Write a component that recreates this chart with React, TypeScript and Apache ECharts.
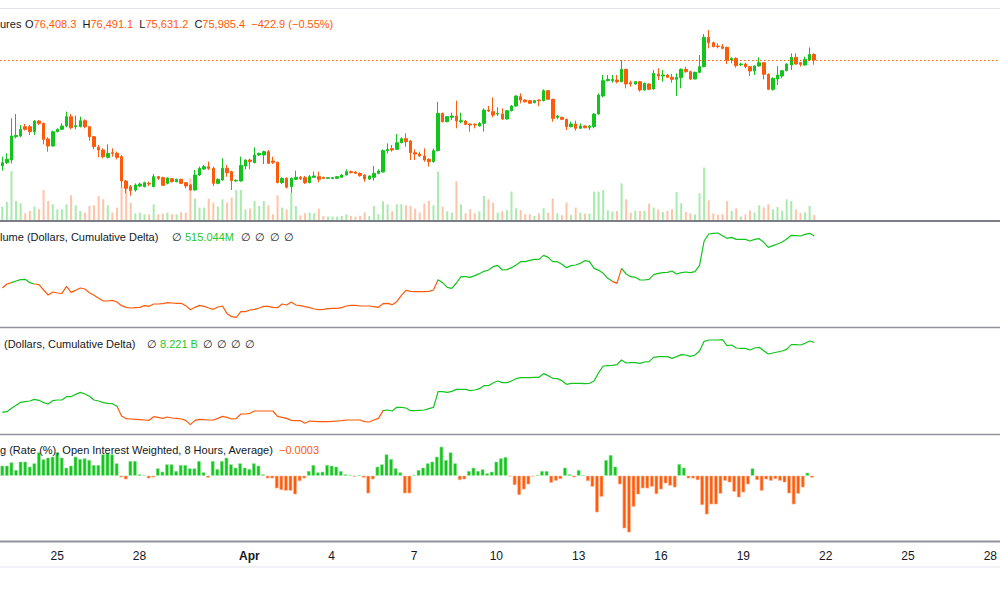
import React, { useEffect, useRef } from "react";
import * as echarts from "echarts";

// ---- time slots (4-hour bars) ----
const START_UTC = Date.UTC(2025, 2, 23, 0, 0);
const SLOT_HOURS = 4;
const SLOT_COUNT = 218;

const TICK_DATES = ["03-25", "03-28", "04-01", "04-04", "04-07", "04-10", "04-13", "04-16", "04-19", "04-22", "04-25", "04-28"];
const TICK_LABELS = ["25", "28", "Apr", "4", "7", "10", "13", "16", "19", "22", "25", "28"];

// ---- price candles ----
const OPEN = [
  68060, 68285, 68485, 70235, 70285, 70985, 70985, 70610, 71410, 71235,
  70060, 69535, 70610, 70785, 71035, 71735, 70985, 70985, 71435, 70985,
  70235, 69435, 69235, 68685, 69035, 68985, 68735, 66910, 66485, 66235,
  66535, 66485, 66735, 66485, 67235, 67160, 66735, 67085, 66860, 67035,
  66785, 66610, 66235, 67360, 67810, 67985, 67860, 66735, 66985, 67860,
  67610, 66910, 66910, 68035, 68485, 68285, 68860, 68860, 69110, 68410,
  68310, 66785, 67110, 66485, 67035, 67185, 67160, 66785, 67185, 67235,
  67185, 67110, 67085, 67110, 67185, 67360, 67610, 67585, 67485, 67360,
  67060, 67185, 67485, 67585, 69185, 69335, 69285, 69785, 70085, 69910,
  69035, 68935, 68785, 68535, 68360, 69185, 71985, 71360, 71685, 71785,
  71360, 71410, 71185, 71160, 71035, 71235, 72235, 72110, 71935, 71935,
  71560, 72185, 72535, 73235, 72985, 72935, 72785, 72985, 72935, 73685,
  73035, 71685, 71685, 71535, 70985, 71185, 70860, 71035, 70935, 70985,
  71935, 73285, 74435, 74435, 74485, 74360, 75285, 74285, 74185, 74360,
  73735, 74185, 73810, 74935, 74785, 74860, 74685, 74535, 74660, 75285,
  75110, 74560, 75060, 75485, 77685, 77285, 77035, 76985, 76935, 75985,
  76110, 75635, 75685, 75485, 75160, 75535, 75785, 74910, 73785, 74560,
  74785, 75185, 75610, 76185, 75785, 75610, 75985, 76408.3,
];
const CLOSE = [
  68285, 68535, 70285, 70335, 70785, 70785, 70610, 71410, 71235, 70035,
  69535, 70610, 70785, 71035, 71735, 70910, 71060, 71435, 70985, 70235,
  69485, 69235, 68735, 68985, 68985, 68685, 66910, 66360, 66185, 66610,
  66685, 66785, 66685, 67235, 67110, 66585, 67135, 66860, 67035, 66735,
  66535, 66235, 67360, 67860, 67985, 67860, 66735, 67035, 67860, 67535,
  66935, 66960, 68085, 68485, 68360, 68860, 68985, 69110, 68235, 68310,
  66785, 67110, 66435, 67110, 67185, 67085, 66785, 67235, 67285, 67035,
  67110, 67160, 67160, 67235, 67360, 67610, 67535, 67485, 67310, 67060,
  67285, 67485, 67660, 69185, 69285, 69235, 69785, 70085, 69860, 69035,
  68935, 68785, 68485, 68360, 69185, 71985, 71360, 71735, 71785, 71410,
  71435, 71160, 71110, 71110, 71235, 72235, 72160, 71860, 71985, 71560,
  72185, 72535, 73285, 72985, 72860, 72735, 72935, 72935, 73685, 73035,
  71610, 71785, 71535, 70985, 71185, 70860, 71035, 70910, 71035, 71935,
  73360, 74435, 74535, 74535, 74360, 75285, 74185, 74185, 74360, 73735,
  74235, 73785, 74985, 74785, 74860, 74685, 74535, 74685, 75285, 75110,
  74560, 75060, 75485, 77685, 77285, 76985, 76985, 76860, 75985, 76110,
  75560, 75685, 75485, 75160, 75535, 75785, 74910, 73785, 74610, 74860,
  75185, 75685, 76185, 75685, 75660, 76035, 76408.3, 75985.4,
];
const LOW = [
  67685, 68185, 68235, 70110, 70185, 70685, 70360, 70360, 71110, 69660,
  69110, 69485, 70560, 70735, 70935, 70785, 70785, 70935, 70860, 69935,
  69285, 68685, 68610, 68610, 68735, 68535, 66435, 65985, 65810, 66110,
  66435, 66435, 66535, 66435, 66985, 66535, 66660, 66785, 66810, 66685,
  66360, 66185, 66185, 67285, 67735, 67735, 66535, 66660, 66935, 67235,
  66235, 66860, 66860, 67785, 67785, 68235, 68785, 68185, 68185, 68185,
  66735, 66685, 66360, 66035, 66985, 66985, 66685, 66735, 67135, 66810,
  67060, 67085, 67060, 67085, 67160, 67335, 67485, 67435, 67235, 66860,
  66985, 66935, 67410, 67535, 68985, 69110, 69235, 69735, 69485, 68485,
  68485, 68735, 68360, 67985, 68285, 69135, 71310, 71310, 71485, 70860,
  71235, 71085, 70610, 70860, 70985, 70610, 72085, 71685, 71785, 71485,
  71510, 72135, 72485, 72735, 72785, 72685, 72735, 72535, 72885, 72985,
  71360, 71535, 71485, 70735, 70935, 70685, 70810, 70860, 70735, 70860,
  71885, 73185, 74385, 74285, 74235, 74310, 73860, 73985, 74135, 73610,
  73685, 73735, 73760, 74485, 74360, 74635, 74285, 73285, 73860, 75035,
  74485, 74535, 74985, 75435, 76860, 76935, 76860, 76785, 75685, 75735,
  75410, 75535, 75360, 74785, 74860, 75485, 74535, 73735, 73685, 74110,
  74610, 75135, 75235, 75635, 75485, 75560, 75935, 75631.2,
];
const HIGH = [
  68735, 68985, 71610, 71935, 71110, 71185, 71110, 71485, 71485, 71285,
  70185, 70685, 70860, 71235, 72110, 71935, 71810, 71735, 71535, 71035,
  70285, 69610, 69360, 69660, 69360, 69110, 68860, 66985, 66610, 66735,
  66785, 66860, 66860, 67435, 67285, 67235, 67185, 67135, 67085, 67085,
  66835, 66685, 67735, 67985, 68110, 68360, 67985, 67110, 68610, 68110,
  67685, 67035, 68735, 68535, 68585, 69435, 69035, 69185, 69235, 68735,
  68360, 67185, 67185, 67185, 67685, 67285, 67285, 67360, 67610, 67610,
  67235, 67185, 67185, 67285, 67435, 67785, 67685, 67660, 67535, 67410,
  67335, 68035, 67785, 69285, 69735, 69610, 70435, 70185, 70485, 69985,
  69285, 69110, 69360, 68610, 69360, 72835, 72035, 71785, 72035, 72935,
  72035, 71485, 71235, 71235, 71335, 72360, 72535, 73185, 72435, 72360,
  72235, 72610, 73335, 73485, 73035, 72985, 72985, 73035, 73785, 73735,
  73085, 71860, 71735, 71585, 71360, 71435, 71235, 71085, 71085, 71985,
  73485, 74860, 74860, 74860, 74860, 75985, 75335, 74435, 74410, 74410,
  74285, 74235, 75235, 75360, 75235, 74935, 74935, 74985, 75360, 75485,
  75185, 75110, 76360, 77935, 78235, 77360, 77235, 77185, 76985, 76185,
  76185, 75785, 75785, 75535, 75585, 76185, 75835, 74985, 74685, 75535,
  75235, 75735, 76485, 76485, 75835, 76235, 76935, 76491.1,
];
const VOLUME = [
  13.4, 18.0, 49.0, 19.0, 16.7, 6.7, 9.0, 13.4, 10.7, 30.0,
  19.0, 15.7, 10.7, 10.7, 15.7, 24.7, 14.7, 9.0, 7.4, 14.0,
  14.7, 24.0, 20.7, 14.7, 7.4, 12.4, 33.4, 32.4, 17.4, 6.7,
  7.4, 5.7, 5.7, 15.7, 5.7, 6.4, 7.4, 5.7, 5.7, 8.0,
  7.4, 41.4, 21.4, 12.4, 12.4, 21.4, 17.4, 13.4, 20.7, 17.4,
  22.4, 30.0, 30.0, 10.7, 11.4, 19.0, 14.0, 19.0, 14.7, 5.7,
  24.7, 12.4, 10.7, 27.4, 14.0, 4.7, 6.7, 7.4, 6.7, 11.4,
  4.0, 3.4, 3.4, 3.4, 4.0, 5.7, 4.0, 3.4, 4.0, 7.4,
  4.0, 14.0, 5.7, 18.7, 15.7, 8.7, 15.7, 15.7, 14.7, 14.0,
  11.4, 7.4, 16.4, 19.0, 14.7, 48.4, 13.4, 8.7, 7.4, 38.7,
  15.7, 6.7, 10.7, 6.7, 8.7, 24.0, 20.7, 17.4, 7.4, 8.7,
  10.0, 28.4, 11.7, 10.0, 5.7, 5.7, 4.0, 6.7, 11.7, 7.4,
  21.4, 6.7, 4.7, 17.4, 5.0, 12.4, 7.4, 6.4, 6.4, 28.4,
  28.4, 30.0, 9.7, 8.4, 9.0, 36.7, 20.7, 7.4, 9.0, 9.0,
  9.0, 16.4, 12.4, 10.7, 8.0, 9.0, 10.7, 28.0, 16.7, 8.0,
  6.7, 5.7, 26.7, 52.4, 19.7, 6.7, 5.4, 5.7, 18.7, 9.0,
  11.7, 3.4, 5.7, 9.4, 7.4, 14.7, 12.7, 15.7, 10.7, 13.0,
  9.4, 20.7, 19.0, 10.4, 7.0, 7.7, 14.0, 5.0,
];

// ---- cumulative volume delta (millions of dollars) ----
const CVD_VOLUME = [
  -58.5, -14.3, 0.4, 18.8, 33.5, 37.1, 0.4, -14.3, -21.7, -80.5,
  -135.7, -102.6, -113.6, -117.3, -40.1, -106.3, -84.2, -58.5, -69.5, -109.9,
  -139.4, -172.5, -201.9, -201.9, -194.5, -212.9, -253.3, -271.7, -279.1, -275.4,
  -271.7, -253.3, -260.7, -235.0, -235.0, -231.3, -220.3, -223.9, -227.6, -227.6,
  -253.3, -297.5, -271.7, -249.7, -260.7, -279.1, -293.8, -268.1, -257.0, -341.6,
  -374.7, -382.0, -319.5, -319.5, -301.1, -293.8, -279.1, -260.7, -260.7, -271.7,
  -275.4, -235.0, -246.0, -212.9, -246.0, -253.3, -264.4, -275.4, -290.1, -297.5,
  -293.8, -286.4, -282.8, -282.8, -275.4, -257.0, -249.7, -249.7, -257.0, -257.0,
  -257.0, -264.4, -271.7, -231.3, -227.6, -242.3, -209.2, -139.4, -84.2, -95.2,
  -98.9, -98.9, -98.9, -95.2, -80.5, 33.5, 0.4, -51.1, -62.1, -3.3,
  66.6, 66.6, 59.2, 77.6, 99.6, 125.4, 140.1, 176.9, 191.6, 140.1,
  143.8, 165.8, 195.2, 232.0, 232.0, 246.7, 257.8, 257.8, 301.9, 279.8,
  232.0, 232.0, 202.6, 165.8, 187.9, 195.2, 213.6, 243.0, 235.7, 158.5,
  136.4, 103.3, 48.2, 15.1, -7.0, 158.5, 96.0, 66.6, 59.2, 29.8,
  29.8, 37.1, 88.6, 103.3, 110.7, 114.4, 129.1, 96.0, 110.7, 118.0,
  110.7, 121.7, 191.6, 460.0, 537.2, 544.6, 548.2, 518.8, 489.4, 500.4,
  478.4, 478.4, 478.4, 460.0, 478.4, 485.7, 445.3, 390.1, 408.5, 426.9,
  449.0, 482.0, 522.5, 518.8, 515.1, 533.5, 544.6, 515.044,
];

// ---- cumulative dollar delta (billions) ----
const CVD_DOLLAR = [
  0.078, 0.155, 0.543, 0.892, 1.241, 1.319, 1.396, 1.59, 1.474, 1.202,
  1.047, 1.435, 1.512, 1.512, 1.9, 1.9, 2.172, 2.404, 2.21, 1.939,
  1.512, 1.396, 1.202, 1.125, 1.086, 0.776, -0.349, -0.659, -0.698, -0.737,
  -0.776, -0.814, -0.853, -0.427, -0.504, -0.62, -0.465, -0.582, -0.62, -0.698,
  -0.853, -1.357, -0.853, -0.737, -0.776, -0.814, -0.814, -0.62, -0.388, -0.504,
  -0.698, -0.659, -0.116, -0.116, -0.039, 0.233, 0.233, 0.233, 0.233, 0.233,
  -0.388, -0.504, -0.62, -0.853, -0.892, -0.892, -1.202, -0.931, -0.97, -1.008,
  -1.008, -1.008, -0.97, -0.931, -0.892, -0.814, -0.814, -0.814, -0.814, -1.008,
  -1.047, -0.814, -0.62, 0.271, 0.349, 0.233, 0.659, 0.659, 0.582, 0.271,
  0.271, 0.31, 0.349, 0.504, 0.659, 2.482, 2.482, 2.404, 2.521, 2.753,
  2.753, 2.753, 2.598, 2.676, 2.831, 3.18, 3.18, 3.49, 3.723, 3.529,
  3.529, 3.723, 3.994, 4.111, 4.111, 4.111, 4.149, 4.149, 4.576, 4.343,
  4.033, 3.994, 3.762, 3.335, 3.451, 3.451, 3.451, 3.413, 3.451, 3.723,
  4.692, 5.468, 5.507, 5.546, 5.623, 6.166, 5.817, 5.856, 5.856, 5.778,
  5.933, 5.972, 6.476, 6.554, 6.554, 6.554, 6.36, 6.554, 6.787, 6.748,
  6.593, 6.748, 7.213, 8.338, 8.493, 8.493, 8.493, 8.532, 7.834, 7.911,
  7.562, 7.523, 7.523, 7.329, 7.562, 7.64, 7.252, 6.864, 6.98, 7.097,
  7.213, 7.407, 7.95, 7.95, 7.911, 8.105, 8.376, 8.221,
];

// ---- funding rate (%), OI weighted ----
const FUNDING = [
  0.0015, 0.0015, 0.002, 0.00085, 0.0021, 0.0021, 0.00135, 0.00185, 0.0035, 0.00245,
  0.0027, 0.00285, 0.0035, 0.0027, 0.0012, 0.0015, 0.00285, 0.0025, 0.0026, 0.00235,
  0.0016, 0.0016, 0.0032, 0.00335, 0.0032, 0.00185, -0.00025, -0.00055, 0.0022, 0.0022,
  0.0002, 0.0001, -0.0004, -0.00025, 0.0011, 0.0006, 0.0017, 0.0017, 0.0007, 0.0016,
  0.0016, 0.0011, 0.0011, 0.0022, 0.0005, -0.0003, 0.0022, 0.001, 0.0022, 0.0027,
  0.0017, 0.0012, 0.00185, 0.0012, 0.001, 0.00185, 0.0015, 0.0002, -0.0004, -0.0004,
  -0.0019, -0.00215, -0.00225, -0.00225, -0.0028, -0.0008, -0.0004, 0.0007, 0.0016, 0.0005,
  0.0006, 0.0016, 0.0015, 0.00135, 0.0007, 0.0002, 0.0001, -0.00015, 0.0001, -0.0003,
  -0.00265, -0.00055, 0.00135, 0.0017, 0.0032, 0.0025, 0.0011, 0.0005, -0.00265, -0.00265,
  0.0001, 0.00085, 0.0012, 0.00185, 0.0021, 0.00285, 0.00435, 0.00235, 0.0035, 0.00185,
  -0.00065, -0.00055, 0.0007, 0.0012, 0.0007, 0.00095, 0.00035, 0.0006, 0.0021, 0.0026,
  0.0028, -0.0001, -0.0014, -0.0029, -0.00205, -0.0013, -0.0001, 0.0001, 0.0007, 0.0007,
  -0.00105, -0.00075, -0.0005, 0.0012, 0.0002, -0.00025, 0.00085, 0.0001, -0.0008, -0.00165,
  -0.0055, -0.00315, 0.00235, 0.0031, 0.00135, -0.0013, -0.0079, -0.0085, -0.00465, -0.0028,
  -0.0019, -0.0019, -0.00165, -0.00275, -0.00205, -0.00115, -0.0015, -0.00175, 0.00175, 0.0012,
  -0.0004, -0.0004, -0.00065, -0.0044, -0.0058, -0.0043, -0.0043, -0.0027, -0.00075, -0.001,
  -0.0024, -0.00325, -0.0025, -0.0013, 0.0011, -0.00065, -0.00225, -0.00055, -0.00075, -0.0005,
  -0.00075, -0.001, -0.00265, -0.0043, -0.0027, -0.00175, 0.00045, -0.0003,
];

// ---- styling ----
const UP = "#12c41c";
const DOWN = "#ff5a0a";
const UP_VOL = "rgba(18,196,28,0.36)";
const DOWN_VOL = "rgba(255,90,10,0.36)";
const TEXT = "#131722";
const TEXT_GREEN = "#1fc92a";
const FONT = '"Liberation Sans", Arial, sans-serif';
const AXIS_FONT = '"Liberation Sans Narrow", "Liberation Sans", sans-serif';

const pad = (n: number) => (n < 10 ? "0" + n : "" + n);
const CATEGORIES: string[] = [];
for (let i = 0; i < SLOT_COUNT; i++) {
  const d = new Date(START_UTC + i * SLOT_HOURS * 3600 * 1000);
  CATEGORIES.push(`${pad(d.getUTCMonth() + 1)}-${pad(d.getUTCDate())} ${pad(d.getUTCHours())}:00`);
}

const fmtNum = (v: number, digits: number) =>
  v.toLocaleString("en-US", { minimumFractionDigits: digits, maximumFractionDigits: digits });
const signed = (s: string) => s.replace("-", "\u2212");

function txt(x: number, y: number, text: string, fill: string, weight: string = "normal") {
  return {
    type: "text",
    x,
    y,
    silent: true,
    z: 50,
    style: { text, fill, fontSize: 11, fontFamily: FONT, fontWeight: weight, verticalAlign: "middle", align: "left" },
  };
}
function hline(y: number, color: string, w: number) {
  return {
    type: "line",
    silent: true,
    z: 40,
    shape: { x1: 0, y1: y, x2: 1000, y2: y },
    style: { stroke: color, lineWidth: w },
  };
}

function buildOption() {
  const last = CLOSE.length - 1;
  const chg = CLOSE[last] - CLOSE[last - 1];
  const pct = (chg / CLOSE[last - 1]) * 100;
  const lastCvd1 = CVD_VOLUME[CVD_VOLUME.length - 1];
  const lastCvd2 = CVD_DOLLAR[CVD_DOLLAR.length - 1];
  const lastFunding = FUNDING[FUNDING.length - 1];

  const grids = [
    { left: 0, right: 0, top: 10, height: 210 },
    { left: 0, right: 0, top: 221, height: 106 },
    { left: 0, right: 0, top: 328, height: 106 },
    { left: 0, right: 0, top: 435, height: 106 },
  ];

  const xAxis = grids.map((_, k) => ({
    type: "category",
    gridIndex: k,
    data: CATEGORIES,
    boundaryGap: true,
    axisLine: { show: false },
    axisTick: { show: false },
    splitLine: { show: false },
    axisLabel:
      k === 3
        ? {
            show: true,
            margin: 9,
            interval: (_idx: number, value: string) =>
              value.endsWith("00:00") && TICK_DATES.indexOf(value.slice(0, 5)) >= 0,
            formatter: (value: string) => {
              const lab = TICK_LABELS[TICK_DATES.indexOf(value.slice(0, 5))] || "";
              return /^\d+$/.test(lab) ? lab : `{m|${lab}}`;
            },
            color: TEXT,
            fontSize: 12,
            fontFamily: AXIS_FONT,
            rich: { m: { fontWeight: "bold", fontSize: 12, fontFamily: AXIS_FONT, color: TEXT } },
          }
        : { show: false },
  }));

  const hidden = { axisLine: { show: false }, axisTick: { show: false }, axisLabel: { show: false }, splitLine: { show: false } };
  const yAxis = [
    { type: "value", gridIndex: 0, min: 63985, max: 79735, scale: true, ...hidden },
    { type: "value", gridIndex: 0, min: 0, max: 210, ...hidden },
    { type: "value", gridIndex: 1, min: -488.6, max: 680.6, ...hidden },
    { type: "value", gridIndex: 2, min: -2.443, max: 9.889, ...hidden },
    { type: "value", gridIndex: 3, min: -0.009795, max: 0.006105, ...hidden },
  ];

  const candles = OPEN.map((o, i) => [o, CLOSE[i], LOW[i], HIGH[i]]);
  const vols = VOLUME.map((v, i) => ({
    value: v,
    itemStyle: { color: CLOSE[i] >= OPEN[i] ? UP_VOL : DOWN_VOL },
  }));
  const funding = FUNDING.map((v) => ({
    value: v,
    itemStyle: { color: v >= 0 ? UP : DOWN, borderColor: v >= 0 ? "#8fe396" : "#ffb48e", borderWidth: 0.6 },
  }));

  const header =
    `{k|O}{v|${fmtNum(OPEN[last], 1)}}  {k|H}{v|${fmtNum(HIGH[last], 1)}}  ` +
    `{k|L}{v|${fmtNum(LOW[last], 1)}}  {k|C}{v|${fmtNum(CLOSE[last], 1)}}  ` +
    `{v|${signed(fmtNum(chg, 1))} (${signed(fmtNum(pct, 2))}%)}`;

  const graphic: any[] = [
    hline(8.5, "#e0e3eb", 1),
    hline(221, "#50535e", 1.6),
    hline(327.5, "#8f929b", 1.4),
    hline(434.5, "#8f929b", 1.4),
    hline(541.5, "#8f929b", 1.8),
    hline(567, "#e0e3eb", 1),
    // header
    txt(0, 24, "ures", TEXT),
    {
      type: "text",
      x: 25,
      y: 24,
      silent: true,
      z: 50,
      style: {
        text: header,
        fill: TEXT,
        fontSize: 11,
        fontFamily: FONT,
        verticalAlign: "middle",
        align: "left",
        rich: {
          k: { fill: TEXT, fontSize: 11, fontFamily: FONT },
          v: { fill: DOWN, fontSize: 11, fontFamily: FONT },
        },
      },
    },
    // pane 2
    txt(0, 237, "lume (Dollars, Cumulative Delta)", TEXT),
    txt(172, 237, "\u2205", TEXT),
    txt(185, 237, `${fmtNum(lastCvd1, 3)}M`, TEXT_GREEN),
    txt(241, 237, "\u2205", TEXT),
    txt(255, 237, "\u2205", TEXT),
    txt(270, 237, "\u2205", TEXT),
    txt(284, 237, "\u2205", TEXT),
    // pane 3
    txt(4, 343.5, "(Dollars, Cumulative Delta)", TEXT),
    txt(147, 343.5, "\u2205", TEXT),
    txt(160, 343.5, `${fmtNum(lastCvd2, 3)} B`, TEXT_GREEN),
    txt(203, 343.5, "\u2205", TEXT),
    txt(217, 343.5, "\u2205", TEXT),
    txt(231, 343.5, "\u2205", TEXT),
    txt(245, 343.5, "\u2205", TEXT),
    // pane 4
    txt(0, 450, "g (Rate (%), Open Interest Weighted, 8 Hours, Average)", TEXT),
    txt(279, 450, signed(fmtNum(lastFunding, 4)), DOWN),
  ];

  return {
    animation: false,
    backgroundColor: "#ffffff",
    grid: grids,
    xAxis,
    yAxis,
    visualMap: [
      {
        type: "piecewise",
        show: false,
        seriesIndex: 2,
        dimension: 0,
        pieces: [
          { lt: 1.7, color: DOWN },
          { gte: 1.7, lt: 6.5, color: UP },
          { gte: 6.5, lt: 94.6, color: DOWN },
          { gte: 94.6, lt: 133.3, color: UP },
          { gte: 133.3, lt: 134.6, color: DOWN },
          { gte: 134.6, color: UP },
        ],
      },
      {
        type: "piecewise",
        show: false,
        seriesIndex: 3,
        dimension: 0,
        pieces: [
          { lt: 25.3, color: UP },
          { gte: 25.3, lt: 82.6, color: DOWN },
          { gte: 82.6, color: UP },
        ],
      },
    ],
    series: [
      {
        type: "candlestick",
        xAxisIndex: 0,
        yAxisIndex: 0,
        data: candles,
        barWidth: 3,
        itemStyle: { color: UP, color0: DOWN, borderColor: UP, borderColor0: DOWN, borderWidth: 1 },
        markLine: {
          silent: true,
          symbol: ["none", "none"],
          label: { show: false },
          lineStyle: { color: DOWN, type: [1.5, 2.5], width: 1 },
          data: [{ yAxis: CLOSE[last] }],
        },
        z: 3,
      },
      {
        type: "bar",
        xAxisIndex: 0,
        yAxisIndex: 1,
        data: vols,
        barWidth: 2,
        z: 1,
      },
      {
        type: "line",
        xAxisIndex: 1,
        yAxisIndex: 2,
        data: CVD_VOLUME,
        showSymbol: false,
        symbol: "none",
        lineStyle: { width: 1.2 },
      },
      {
        type: "line",
        xAxisIndex: 2,
        yAxisIndex: 3,
        data: CVD_DOLLAR,
        showSymbol: false,
        symbol: "none",
        lineStyle: { width: 1.2 },
      },
      {
        type: "bar",
        xAxisIndex: 3,
        yAxisIndex: 4,
        data: funding,
        barWidth: 3.6,
      },
    ],
    graphic,
  };
}

export default function App() {
  const ref = useRef<HTMLDivElement>(null);
  useEffect(() => {
    if (!ref.current) return;
    const chart = echarts.init(ref.current, null, { renderer: "svg" });
    chart.setOption(buildOption() as any);
    return () => chart.dispose();
  }, []);
  return (
    <div
      ref={ref}
      style={{ position: "fixed", left: 0, top: 0, width: 1000, height: 600, background: "#ffffff" }}
    />
  );
}
